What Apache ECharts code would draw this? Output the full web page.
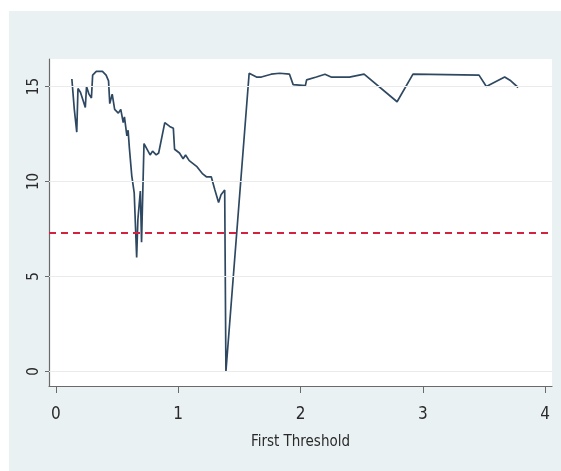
<!DOCTYPE html>
<html>
<head>
<meta charset="utf-8">
<title>First Threshold</title>
<script src="https://cdn.jsdelivr.net/npm/echarts@6/dist/echarts.min.js"></script>
<style>
  html, body { margin: 0; padding: 0; background: #ffffff; }
  #chart { width: 561px; height: 471px; }
</style>
</head>
<body>
<div id="chart"></div>
<script>
// Threshold grid (x) and the statistic evaluated at each threshold (y)
const thresholds = [
  0.13, 0.15, 0.17, 0.18, 0.20, 0.22, 0.24, 0.25, 0.27, 0.29,
  0.30, 0.33, 0.38, 0.41, 0.43, 0.44, 0.46, 0.48, 0.51, 0.53,
  0.55, 0.56, 0.58, 0.59, 0.60, 0.62, 0.64, 0.66, 0.67, 0.69,
  0.70, 0.72, 0.77, 0.79, 0.82, 0.84, 0.89, 0.93, 0.96, 0.97,
  1.01, 1.04, 1.06, 1.09, 1.15, 1.20, 1.23, 1.27, 1.30, 1.33,
  1.35, 1.38, 1.39, 1.58, 1.64, 1.68, 1.76, 1.83, 1.91, 1.94,
  2.04, 2.05, 2.13, 2.20, 2.25, 2.40, 2.52, 2.79, 2.92, 3.46,
  3.52, 3.67, 3.72, 3.78
];
const values = [
  15.4, 13.8, 12.6, 14.9, 14.7, 14.3, 13.9, 15.0, 14.6, 14.4,
  15.6, 15.8, 15.8, 15.6, 15.3, 14.1, 14.6, 13.8, 13.6, 13.8,
  13.1, 13.4, 12.4, 12.7, 11.8, 10.3, 9.4, 6.0, 8.0, 9.5,
  6.8, 12.0, 11.4, 11.6, 11.4, 11.5, 13.1, 12.9, 12.8, 11.7,
  11.5, 11.2, 11.4, 11.1, 10.8, 10.4, 10.25, 10.25, 9.55, 8.9,
  9.3, 9.55, 0.0, 15.7, 15.5, 15.5, 15.65, 15.7, 15.65, 15.1,
  15.05, 15.35, 15.5, 15.65, 15.5, 15.5, 15.65, 14.2, 15.65, 15.6,
  15.0, 15.5, 15.3, 14.95
];
// Critical value drawn as a horizontal reference line
const criticalValue = 7.33;
// Tick labels
const xTicks = [0, 1, 2, 3, 4];
const yTicks = [0, 5, 10, 15];

const points = thresholds.map((t, i) => [t, values[i]]);

const labelFont = '"Liberation Sans Narrow", "DejaVu Sans Condensed", "Liberation Sans", sans-serif';

const chart = echarts.init(document.getElementById('chart'));
chart.setOption({
  backgroundColor: '#ffffff',
  animation: false,
  graphic: [{
    type: 'rect',
    z: -10,
    silent: true,
    shape: { x: 9, y: 11, width: 552, height: 460 },
    style: { fill: '#eaf1f3' }
  }],
  grid: {
    left: 49, top: 59, right: 9, bottom: 85,
    show: true,
    backgroundColor: '#ffffff',
    borderWidth: 0
  },
  xAxis: {
    type: 'value',
    min: -0.057,
    max: 4.057,
    name: 'First Threshold',
    nameLocation: 'middle',
    nameGap: 49,
    nameTextStyle: { fontFamily: labelFont, fontSize: 15, color: '#2a2a2a' },
    axisLine: { show: true, onZero: false, lineStyle: { color: '#6a6a6a', width: 1.2 } },
    axisTick: { show: true, length: 7, customValues: xTicks, lineStyle: { color: '#6a6a6a' } },
    axisLabel: { customValues: xTicks, margin: 20, fontFamily: labelFont, fontSize: 17, color: '#2a2a2a' },
    splitLine: { show: false }
  },
  yAxis: {
    type: 'value',
    min: -0.763,
    max: 16.45,
    axisLine: { show: true, onZero: false, lineStyle: { color: '#6a6a6a', width: 1.2 } },
    axisTick: { show: true, length: 4, customValues: yTicks, lineStyle: { color: '#6a6a6a' } },
    axisLabel: { customValues: yTicks, rotate: 90, margin: 7, fontFamily: labelFont, fontSize: 15, color: '#2a2a2a' },
    splitLine: { show: false }
  },
  series: [
    {
      // horizontal grid lines at the labelled y values
      type: 'line',
      data: [],
      silent: true,
      markLine: {
        silent: true,
        symbol: 'none',
        label: { show: false },
        lineStyle: { color: '#ebebeb', width: 1.2, type: 'solid' },
        data: yTicks.map(v => ({ yAxis: v }))
      }
    },
    {
      type: 'line',
      data: points,
      showSymbol: false,
      symbol: 'none',
      lineStyle: { color: '#2e4862', width: 1.7 },
      z: 3,
      markLine: {
        silent: true,
        symbol: 'none',
        label: { show: false },
        lineStyle: { color: '#d4213f', width: 2, type: [7, 5] },
        data: [{ yAxis: criticalValue }]
      }
    }
  ]
});
</script>
</body>
</html>
